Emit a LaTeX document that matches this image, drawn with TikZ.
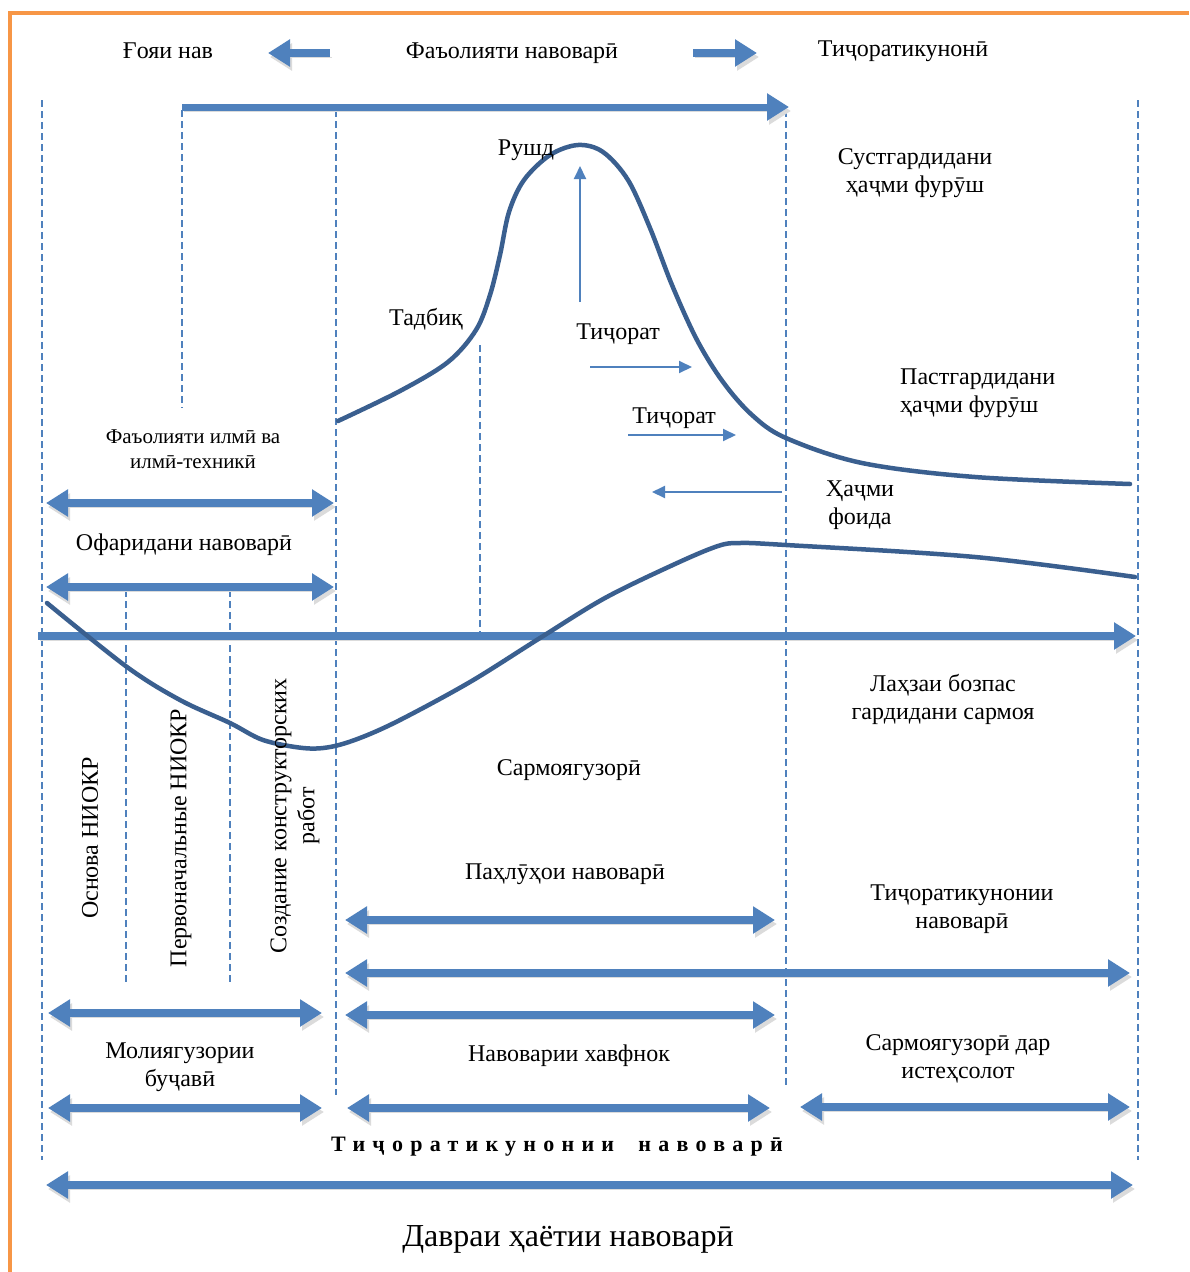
\documentclass[tikz,border=0pt]{standalone}
\usepackage{fontspec}
\setmainfont{Liberation Serif}
\usetikzlibrary{arrows.meta}
\definecolor{ablue}{HTML}{4F81BD}
\definecolor{cblue}{HTML}{3A5F8F}
\definecolor{orng}{HTML}{F79646}
\begin{document}
\begin{tikzpicture}[x=1pt,y=-1pt,
  lbl/.style={font=\fontsize{24}{28}\selectfont, align=center, inner sep=0pt},
  sml/.style={font=\fontsize{21}{25}\selectfont, align=center, inner sep=0pt},
  shadowed/.style={preaction={draw=black!14, transform canvas={shift={(2pt,-4pt)}}}},
  dbl/.style={shadowed, draw=ablue, line width=7.5pt,
     {Triangle[length=22pt,width=26pt]}-{Triangle[length=22pt,width=26pt]}},
  sgl/.style={shadowed, draw=ablue, line width=7.5pt, -{Triangle[length=22pt,width=26pt]}},
  thin/.style={draw=ablue, line width=2pt, -{Triangle[length=13pt,width=12pt]}},
  guide/.style={draw=ablue, line width=1.5pt, dash pattern=on 7pt off 4pt},
  curve/.style={draw=cblue, line width=4.5pt, line cap=round}
]
\useasboundingbox (0,0) rectangle (1189,1272);
\fill[white] (0,0) rectangle (1189,1272);
% frame
\draw[orng, line width=4pt] (10,1272) -- (10,13) -- (1189,13);

% vertical guide lines
\coordinate (g1a) at (42,100);   \coordinate (g1b) at (42,1160);
\coordinate (g2a) at (182,110);  \coordinate (g2b) at (182,408);
\coordinate (g3a) at (336,110);  \coordinate (g3b) at (336,1095);
\coordinate (g4a) at (786,110);  \coordinate (g4b) at (786,1088);
\coordinate (g5a) at (1138,100); \coordinate (g5b) at (1138,1160);
\coordinate (g6a) at (480,345);  \coordinate (g6b) at (480,632);
\coordinate (g7a) at (126,590);  \coordinate (g7b) at (126,985);
\coordinate (g8a) at (230,590);  \coordinate (g8b) at (230,985);
\foreach \g in {1,...,8} \draw[guide] (g\g a) -- (g\g b);

% top labels and arrows
\node[lbl] (goya) at (168,51) {Ғояи нав};
\node[lbl] (faol) at (512,53) {Фаъолияти навоварӣ};
\node[lbl] (tij0) at (903,51) {Тиҷоратикунонӣ};
\coordinate (la1) at (330,53); \coordinate (la2) at (268,53);
\coordinate (ra1) at (693,53); \coordinate (ra2) at (757,53);
\draw[sgl] (la1) -- (la2);
\draw[sgl] (ra1) -- (ra2);
\coordinate (lt1) at (182,107); \coordinate (lt2) at (789,107);
\draw[sgl, line width=7pt] (lt1) -- (lt2);

% sales curve
\draw[curve] plot[smooth, tension=0.55] coordinates {
 (338,421) (400,391) (448,362) (476,330) (490,295) (500,255) (509,212)
 (524,180) (550,155) (578,145) (603,152) (628,180) (650,228) (672,285)
 (697,340) (723,382) (752,415) (786,438) (862,463) (975,477) (1130,484)};

\node[lbl] (rushd) at (526,150) {Рушд};
\node[lbl] (tadbiq) at (426,319) {Тадбиқ};
\coordinate (up1) at (580,302); \coordinate (up2) at (580,166);
\draw[thin] (up1) -- (up2);
\node[lbl] (tij1) at (618,334) {Тиҷорат};
\coordinate (t1a) at (590,367); \coordinate (t1b) at (692,367);
\draw[thin] (t1a) -- (t1b);
\node[lbl] (tij2) at (674,418) {Тиҷорат};
\coordinate (t2a) at (628,435); \coordinate (t2b) at (736,435);
\draw[thin] (t2a) -- (t2b);
\coordinate (t3a) at (782,492); \coordinate (t3b) at (652,492);
\draw[thin] (t3a) -- (t3b);
\node[lbl] (hajm) at (860,505) {Ҳаҷми\\фоида};

\node[lbl] (sust) at (915,173) {Сустгардидани\\ҳаҷми фурӯш};
\node[lbl, align=left, anchor=west] (past) at (900,393) {Пастгардидани\\ҳаҷми фурӯш};

% left upper block
\node[sml] (ilmi) at (193,449) {Фаъолияти илмӣ ва\\илмӣ-техникӣ};
\coordinate (d1a) at (46,503); \coordinate (d1b) at (334,503);
\draw[dbl] (d1a) -- (d1b);
\node[lbl] (ofar) at (184,545) {Офаридани навоварӣ};
\coordinate (d2a) at (46,587); \coordinate (d2b) at (334,587);
\draw[dbl] (d2a) -- (d2b);

% main axis
\coordinate (ax1) at (38,636); \coordinate (ax2) at (1136,636);
\draw[sgl, line width=8pt] (ax1) -- (ax2);

% profit curve
\draw[curve] plot[smooth, tension=0.55] coordinates {
 (47,603) (127,667) (180,700) (230,723) (263,740) (303,748) (330,747)
 (360,738) (400,720) (470,682) (540,638) (605,598) (675,564) (718,546)
 (740,543) (786,545) (975,557) (1135,577)};

\node[lbl] (lahza) at (943,699) {Лаҳзаи бозпас\\гардидани сармоя};
\node[lbl] (sarm) at (569,770) {Сармоягузорӣ};

% rotated labels
\node[lbl, rotate=90] (osn) at (90,838) {Основа НИОКР};
\node[lbl, rotate=90] (perv) at (181,838) {Первоначальные НИОКР};
\node[lbl, rotate=90] (sozd) at (295,816) {Создание конструкторских\\работ};

% lower arrows
\node[lbl] (pahlu) at (565,874) {Паҳлӯҳои навоварӣ};
\coordinate (d3a) at (345,920); \coordinate (d3b) at (775,920);
\draw[dbl] (d3a) -- (d3b);
\node[lbl] (tijn) at (962,909) {Тиҷоратикунонии\\навоварӣ};
\coordinate (d4a) at (345,973); \coordinate (d4b) at (1130,973);
\draw[dbl] (d4a) -- (d4b);
\coordinate (d5a) at (48,1013); \coordinate (d5b) at (322,1013);
\draw[dbl] (d5a) -- (d5b);
\coordinate (d6a) at (345,1015); \coordinate (d6b) at (775,1015);
\draw[dbl] (d6a) -- (d6b);

\node[lbl] (moli) at (180,1067) {Молиягузории\\буҷавӣ};
\node[lbl] (havf) at (569,1056) {Навоварии хавфнок};
\node[lbl] (ist) at (958,1059) {Сармоягузорӣ дар\\истеҳсолот};

\coordinate (d7a) at (48,1108);  \coordinate (d7b) at (322,1108);
\coordinate (d8a) at (347,1108); \coordinate (d8b) at (770,1108);
\coordinate (d9a) at (800,1107); \coordinate (d9b) at (1130,1107);
\draw[dbl] (d7a) -- (d7b);
\draw[dbl] (d8a) -- (d8b);
\draw[dbl] (d9a) -- (d9b);

\node[inner sep=0pt, font=\fontsize{22}{26}\selectfont\bfseries\addfontfeature{LetterSpace=33}] (tijb) at (557,1147) {Тиҷоратикунонии\hspace{1.1em}навоварӣ};

\coordinate (d10a) at (46,1185); \coordinate (d10b) at (1133,1185);
\draw[dbl] (d10a) -- (d10b);

\node[inner sep=0pt, font=\fontsize{32}{38}\selectfont] (davr) at (568,1239) {Давраи ҳаётии навоварӣ};
\end{tikzpicture}
\end{document}
